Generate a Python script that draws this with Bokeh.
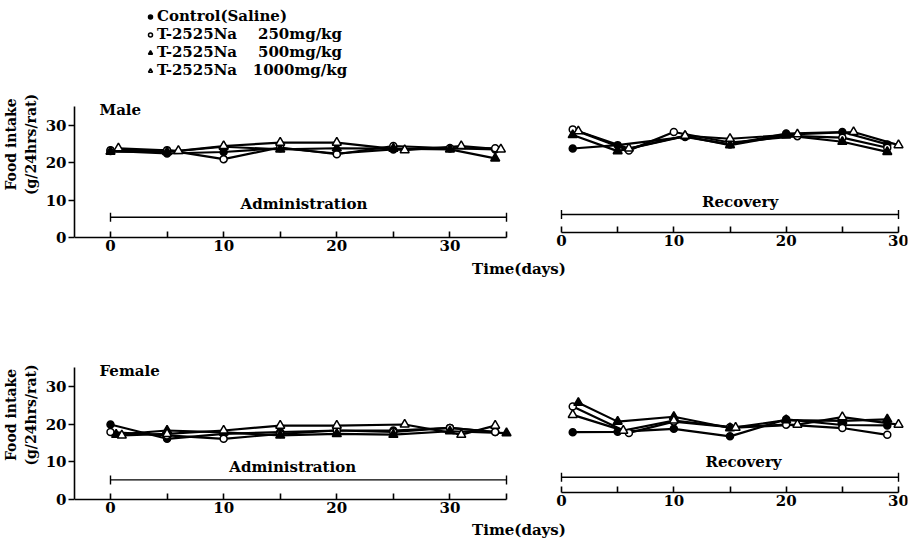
from bokeh.plotting import figure
from bokeh.models import (Range1d, LinearAxis, FixedTicker, Legend, LegendItem,
                          Label, Whisker, TeeHead, ColumnDataSource)
from bokeh.layouts import column
from bokeh.embed import file_html
from bokeh.resources import INLINE

# ---------------- data ----------------
series_labels = ["Control(Saline)",
                 "T-2525Na\u00a0\u00a0\u00a0\u00a0250mg/kg",
                 "T-2525Na\u00a0\u00a0\u00a0\u00a0500mg/kg",
                 "T-2525Na\u00a0\u00a0\u00a01000mg/kg"]
series_markers = ["circle", "circle", "triangle", "triangle"]
series_filled = [True, False, True, False]

male_admin_days = [[0, 5, 10, 15, 20, 25, 30, 34],
                   [0, 5, 10, 15, 20, 25, 30, 34],
                   [0, 5, 10, 15, 20, 25, 30, 34],
                   [0.7, 6, 10, 15, 20, 26, 31, 34.5]]
male_admin_values = [[23.1, 22.4, 22.8, 23.8, 22.4, 23.5, 23.8, 23.5],
                     [23.3, 23.3, 20.9, 24.0, 22.2, 24.4, 23.8, 23.8],
                     [22.9, 22.8, 24.2, 23.5, 23.8, 23.7, 23.5, 21.1],
                     [23.8, 23.1, 24.4, 25.3, 25.3, 23.3, 24.4, 23.5]]

male_rec_days = [[1, 5, 11, 15, 20, 25, 29],
                 [1, 6, 10, 15, 21, 25, 29],
                 [1, 5, 11, 15, 20, 25, 29],
                 [1.5, 6, 11, 15, 21, 26, 30]]
male_rec_values = [[22.4, 23.3, 25.5, 23.5, 26.4, 26.8, 23.5],
                   [27.5, 21.9, 26.8, 24.0, 25.7, 25.3, 22.6],
                   [26.0, 21.7, 25.7, 23.3, 25.9, 24.2, 21.5],
                   [27.0, 22.4, 25.8, 25.0, 26.2, 26.8, 23.3]]

female_admin_days = [[0, 5, 10, 15, 20, 25, 30, 34],
                     [0, 5, 10, 15, 20, 25, 30, 34],
                     [0.5, 5, 10, 15, 20, 25, 30, 35],
                     [1, 5, 10, 15, 20, 26, 31, 34]]
female_admin_values = [[19.9, 16.1, 17.4, 17.9, 18.3, 18.3, 19.0, 17.9],
                       [17.9, 17.0, 16.1, 17.4, 18.3, 17.9, 19.0, 17.9],
                       [17.2, 18.3, 17.8, 17.0, 17.4, 17.2, 18.1, 17.6],
                       [17.0, 17.4, 18.3, 19.6, 19.6, 19.9, 17.2, 19.6]]

female_rec_days = [[1, 5, 10, 15, 20, 25, 29],
                   [1, 6, 10, 15, 20, 25, 29],
                   [1.5, 5, 10, 15, 20, 25, 29],
                   [1, 5.5, 10, 15.5, 21, 25, 30]]
female_rec_values = [[16.0, 16.1, 16.9, 14.9, 19.4, 17.9, 17.8],
                     [22.8, 15.8, 18.8, 17.3, 18.0, 17.1, 15.3],
                     [23.8, 18.8, 20.1, 17.1, 19.2, 19.0, 19.4],
                     [20.6, 16.4, 19.1, 17.2, 18.0, 20.0, 18.0]]

admin_period = (0, 35)
recovery_period = (0, 30)
y_ticks = [0, 10, 20, 30]
admin_minor = [5, 15, 25, 35]
rec_minor = [5, 15, 25]

# ---------------- style ----------------
FONT = "DejaVu Serif"
W = 911
BL, BR = 74, 4
X0, X1 = -3.182, 70.44          # administration days across whole frame
RX0, RX1 = -43.35, 30.80        # recovery days across whole frame


def style_axis(ax, ticks, minor, inward):
    ax.ticker = FixedTicker(ticks=ticks, minor_ticks=minor)
    ax.axis_line_width = 1.6
    ax.axis_line_color = "black"
    ax.major_tick_line_width = 1.6
    ax.minor_tick_line_width = 1.6
    ax.major_tick_line_color = "black"
    ax.minor_tick_line_color = "black"
    if inward:
        ax.major_tick_in = 6
        ax.major_tick_out = 0
        ax.minor_tick_in = 6
        ax.minor_tick_out = 0
    else:
        ax.major_tick_in = 0
        ax.major_tick_out = 6
        ax.minor_tick_in = 0
        ax.minor_tick_out = 0
    ax.major_label_text_font = FONT
    ax.major_label_text_font_size = "15px"
    ax.major_label_text_font_style = "bold"
    ax.major_label_text_color = "black"
    ax.major_label_standoff = 2


def panel(sex, a_days, a_vals, r_days, r_vals, height, y_start, y_end, rec_shift,
          sex_pos, a_bar, a_text, r_bar, r_text, time_pos, legend=False):
    p = figure(width=W, height=height, x_range=Range1d(X0, X1), y_range=Range1d(y_start, y_end),
               output_backend="svg", toolbar_location=None,
               min_border_left=BL, min_border_right=BR, min_border_top=0,
               min_border_bottom=0, outline_line_color=None,
               background_fill_color="white", border_fill_color="white")
    p.grid.visible = False
    p.extra_x_ranges = {"rec": Range1d(RX0, RX1)}
    p.extra_y_ranges = {"recy": Range1d(y_start - rec_shift, y_end - rec_shift)}

    # axes
    xa = p.xaxis[0]
    style_axis(xa, y_ticks, admin_minor, True)
    xa.bounds = (X0, admin_period[1])
    xa.fixed_location = 0
    ya = p.yaxis[0]
    style_axis(ya, y_ticks, [], False)
    ya.bounds = (0, 35)
    ya.axis_label = "Food intake\n(g/24hrs/rat)"
    ya.axis_label_text_font = FONT
    ya.axis_label_text_font_size = "14px"
    ya.axis_label_text_font_style = "bold"
    ya.axis_label_text_color = "black"
    ya.axis_label_standoff = 4

    ra = LinearAxis(x_range_name="rec", y_range_name="recy", fixed_location=0)
    style_axis(ra, y_ticks, rec_minor, True)
    ra.bounds = recovery_period
    p.add_layout(ra, "below")

    scat = []
    for i in range(4):
        p.line(a_days[i], a_vals[i], line_color="black", line_width=2.2)
        p.line(r_days[i], r_vals[i], line_color="black", line_width=2.2,
               x_range_name="rec", y_range_name="recy")
    for i in range(4):
        fill = "black" if series_filled[i] else "white"
        size = 7 if series_markers[i] == "circle" else 9
        r = p.scatter(a_days[i], a_vals[i], marker=series_markers[i], size=size,
                      fill_color=fill, line_color="black", line_width=1.5)
        p.scatter(r_days[i], r_vals[i], marker=series_markers[i], size=size,
                  fill_color=fill, line_color="black", line_width=1.5,
                  x_range_name="rec", y_range_name="recy")
        scat.append(r)

    # period bars
    src_a = ColumnDataSource(dict(base=[a_bar], lower=[admin_period[0]], upper=[admin_period[1]]))
    wa = Whisker(source=src_a, base="base", lower="lower", upper="upper", dimension="width",
                 line_width=1.4, line_color="black",
                 lower_head=TeeHead(size=9, line_width=1.4), upper_head=TeeHead(size=9, line_width=1.4))
    p.add_layout(wa)
    src_r = ColumnDataSource(dict(base=[r_bar], lower=[recovery_period[0]], upper=[recovery_period[1]]))
    wr = Whisker(source=src_r, base="base", lower="lower", upper="upper", dimension="width",
                 line_width=1.4, line_color="black", x_range_name="rec", y_range_name="recy",
                 lower_head=TeeHead(size=9, line_width=1.4), upper_head=TeeHead(size=9, line_width=1.4))
    p.add_layout(wr)

    def lab(x, y, t, align="center", rx=False):
        kw = dict(x=x, y=y, text=t, text_font=FONT, text_font_size="15px",
                  text_font_style="bold", text_align=align, text_baseline="middle",
                  text_color="black")
        if rx:
            kw.update(x_range_name="rec", y_range_name="recy")
        p.add_layout(Label(**kw))

    lab(a_text[0], a_text[1], "Administration")
    lab(r_text[0], r_text[1], "Recovery", rx=True)
    lab(sex_pos[0], sex_pos[1], sex, align="left")
    lab(time_pos[0], time_pos[1], "Time(days)")

    if legend:
        items = [LegendItem(label=series_labels[i], renderers=[scat[i]]) for i in range(4)]
        lg = Legend(items=items, location=(71, 209), border_line_alpha=0,
                    background_fill_alpha=0, label_text_font=FONT,
                    label_text_font_size="15px", label_text_font_style="bold",
                    label_text_color="black",
                    glyph_width=10, glyph_height=15, label_height=15, spacing=0,
                    padding=0, margin=0, label_standoff=2)
        p.add_layout(lg)
    return p


male = panel("Male", male_admin_days, male_admin_values, male_rec_days, male_rec_values,
             height=288, y_start=-51 / 3.75, y_end=237 / 3.75, rec_shift=5 / 3.75,
             sex_pos=(-0.97, 34.0), a_bar=5.4, a_text=(17.1, 9.0), r_bar=4.8, r_text=(15.9, 8.1),
             time_pos=(36.1, -8.27), legend=True)
female = panel("Female", female_admin_days, female_admin_values, female_rec_days, female_rec_values,
               height=253, y_start=-42 / 3.77, y_end=211 / 3.77, rec_shift=7 / 3.77,
               sex_pos=(-0.97, 34.0), a_bar=5.2, a_text=(16.1, 8.75), r_bar=4.06, r_text=(16.2, 8.1),
               time_pos=(36.1, -8.2))

layout = column(male, female, spacing=0)
open("out.html", "w").write(file_html(layout, INLINE))
